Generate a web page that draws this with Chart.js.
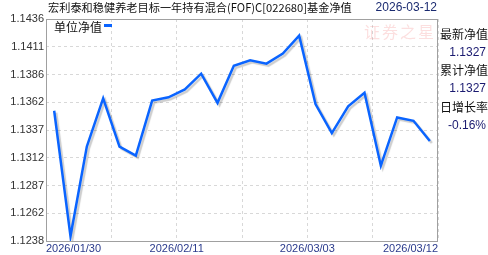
<!DOCTYPE html>
<html>
<head>
<meta charset="utf-8">
<script src="https://cdn.jsdelivr.net/npm/chart.js@4"></script>
<style>
  html, body { margin: 0; padding: 0; background: #fff; }
  #wrap { width: 488px; height: 255px; position: relative; }
</style>
</head>
<body>
<div id="wrap"><canvas id="navChart"></canvas></div>
<script>
const dates = ["2026/01/30", "2026/02/02", "2026/02/03", "2026/02/04", "2026/02/05", "2026/02/06",
  "2026/02/09", "2026/02/10", "2026/02/11", "2026/02/12", "2026/02/13", "2026/02/24",
  "2026/02/25", "2026/02/26", "2026/02/27", "2026/03/02", "2026/03/03", "2026/03/04",
  "2026/03/05", "2026/03/06", "2026/03/09", "2026/03/10", "2026/03/11", "2026/03/12"];
const navValues = [1.1354, 1.1242, 1.1322, 1.1365, 1.1322, 1.1314, 1.1363, 1.1366, 1.1373, 1.1387,
  1.1361, 1.1394, 1.1399, 1.1396, 1.1405, 1.1421, 1.1360, 1.1334, 1.1358, 1.1370,
  1.1305, 1.1348, 1.1345, 1.1327];
const yTickLabels = ["1.1238", "1.1262", "1.1287", "1.1312", "1.1337", "1.1362", "1.1386", "1.1411", "1.1436"];
const xLabelIdx = [0, 8, 16, 23];
const seriesName = "单位净值";
const title = "宏利泰和稳健养老目标一年持有混合(FOF)C[022680]基金净值";
const titleDate = "2026-03-12";
const sideInfo = [["最新净值", "1.1327"], ["累计净值", "1.1327"], ["日增长率", "-0.16%"]];

const yMin = 1.12378, yMax = 1.14358;
const cjk = '"Noto Sans CJK SC", sans-serif';

// box, legend, title, side panel
const decor = {
  id: "decor",
  beforeDatasetsDraw(chart) {
    const { ctx } = chart;
    ctx.save();
    ctx.font = "16px " + cjk;
    ctx.fillStyle = "rgba(240,110,110,0.22)";
    ctx.textBaseline = "middle";
    ctx.textAlign = "left";
    "证券之星".split("").forEach((c, i) => ctx.fillText(c, 364 + i * 18, 32));
    ctx.restore();
  },
  afterDatasetsDraw(chart) {
    const { ctx, chartArea: a } = chart;
    ctx.save();
    ctx.strokeStyle = "#a0a0a0";
    ctx.lineWidth = 1;
    ctx.strokeRect(Math.round(a.left) + 0.5, Math.round(a.top) + 0.5,
      Math.round(a.right - a.left) - 1, Math.round(a.bottom - a.top));

    ctx.textBaseline = "middle";
    ctx.fillStyle = "#111";
    ctx.font = "11.2px " + cjk;
    ctx.textAlign = "left";
    ctx.fillText(title, 48, 8);
    ctx.textAlign = "right";
    ctx.fillStyle = "#1a2a70";
    ctx.font = "12px 'Liberation Sans', sans-serif";
    ctx.fillText(titleDate, 437, 8);

    ctx.textAlign = "left";
    ctx.fillStyle = "#111";
    ctx.font = "12px " + cjk;
    ctx.fillText(seriesName, 54, 27);
    ctx.fillStyle = "#0a64ff";
    ctx.fillRect(104, 24, 8, 3);

    sideInfo.forEach((row, i) => {
      const y = 34 + i * 36.5;
      ctx.textAlign = "left";
      ctx.fillStyle = "#111";
      ctx.font = "12px " + cjk;
      ctx.fillText(row[0], 440, y);
      ctx.textAlign = "right";
      ctx.fillStyle = "#1a1a70";
      ctx.font = "12px 'Liberation Sans', sans-serif";
      ctx.fillText(row[1], 486, y + 18.5);
    });
    ctx.restore();
  },
  beforeDatasetDraw(chart) {
    const ctx = chart.ctx;
    ctx.save();
    ctx.shadowColor = "rgba(0,0,0,0.2)";
    ctx.shadowOffsetX = 2;
    ctx.shadowOffsetY = 2;
    ctx.shadowBlur = 1;
  },
  afterDatasetDraw(chart) {
    chart.ctx.restore();
  },
};

new Chart(document.getElementById("navChart"), {
  type: "line",
  data: {
    datasets: [
      {
        label: seriesName,
        data: navValues.map((v, i) => ({ x: i, y: v })),
        borderColor: "#0a64ff",
        borderWidth: 2.5,
        pointRadius: 0,
        tension: 0,
        fill: false,
      },
    ],
  },
  options: {
    responsive: true,
    maintainAspectRatio: false,
    animation: false,
    layout: { padding: { top: 19, right: 50, left: 0, bottom: 0 } },
    plugins: {
      legend: { display: false },
      tooltip: { enabled: false },
    },
    scales: {
      x: {
        type: "linear",
        min: -0.5,
        max: dates.length - 0.5,
        afterBuildTicks: (s) => {
          const t = [];
          for (let v = -0.5; v <= dates.length - 0.5 + 1e-9; v += 4) t.push({ value: v });
          s.ticks = t;
        },
        afterFit: (s) => { s.height = 14; },
        ticks: {
          autoSkip: false,
          maxRotation: 0,
          align: "inner",
          padding: 1,
          color: "#2a3a8c",
          font: { family: "'Liberation Sans', sans-serif", size: 11 },
          callback: (v) => {
            if (v === -0.5) return dates[0];
            if (v === dates.length - 0.5) return dates[dates.length - 1];
            const i = v + 0.5;
            return xLabelIdx.includes(i) ? dates[i] : "";
          },
        },
        grid: { color: "#d8d8d8", drawTicks: false, lineWidth: 1 },
        border: { display: false, dash: [3, 3] },
      },
      y: {
        min: yMin,
        max: yMax,
        afterBuildTicks: (s) => {
          s.ticks = yTickLabels.map((_, i) => ({ value: yMin + (i * (yMax - yMin)) / (yTickLabels.length - 1) }));
        },
        afterFit: (s) => { s.width = 46; },
        ticks: {
          padding: 2,
          color: "#333",
          font: { family: "'Liberation Sans', sans-serif", size: 11 },
          callback: (v, i) => yTickLabels[i],
        },
        grid: { color: "#d8d8d8", drawTicks: false, lineWidth: 1 },
        border: { display: false, dash: [3, 3] },
      },
    },
  },
  plugins: [decor],
});
</script>
</body>
</html>
